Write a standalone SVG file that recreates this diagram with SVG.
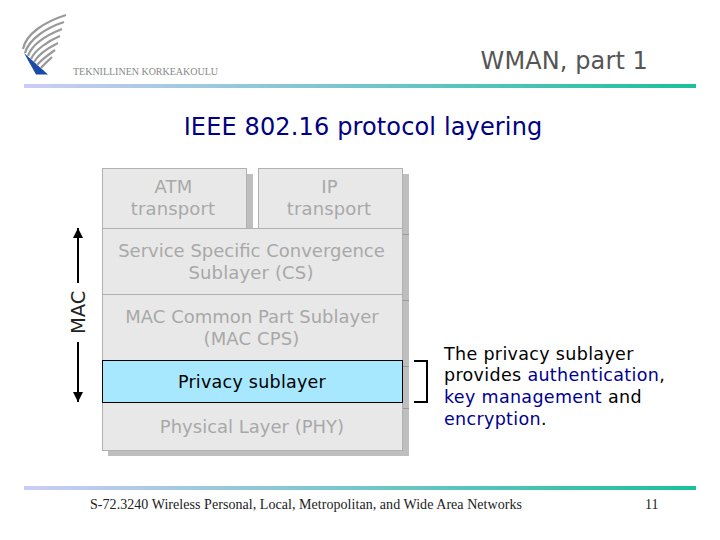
<svg xmlns="http://www.w3.org/2000/svg" width="720" height="540" viewBox="0 0 720 540">
<style>
.v{font-family:"DejaVu Sans",Verdana,sans-serif}
.s{font-family:"Liberation Serif","Times New Roman",serif;font-size:14px;fill:#222}
.l{font-size:18px;fill:#a8a8a8;text-anchor:middle;letter-spacing:.15px}
.n{letter-spacing:0}
.b{fill:#e8e8e8;stroke:#b0b0b0;stroke-width:1}
.sh{fill:#bebebe}
.t{font-size:17.5px;fill:#000;letter-spacing:.33px}
.h{fill:#000090}
.w{fill:none;stroke:#999;stroke-width:2.2}
</style>
<defs>
<linearGradient id="g"><stop offset="0" stop-color="#ccccf6"/><stop offset="1" stop-color="#1cc09a"/></linearGradient>
<marker id="a" markerWidth="11" markerHeight="10" refX="10" refY="5" orient="auto" markerUnits="userSpaceOnUse"><path d="M0 0L10 5L0 10z" fill="#000"/></marker>
</defs>
<rect width="720" height="540" fill="#fff"/>
<g id="logo">
<path d="M24 53L48 74.500L36 74.500z" fill="#1a4aa8"/>
<path d="M23 49C26 34 44 22 66 15" class="w"/>
<path d="M25 53C29 39 46 28 64 22" class="w"/>
<path d="M28 56C32 44 47 35 62 29" class="w"/>
<path d="M31 59C35 50 48 41 60 36" class="w"/>
<path d="M34 62C38 55 48 48 58 43" class="w"/>
<path d="M37 65C41 60 48 55 55 50" class="w"/>
<path d="M41 68C44 64 48 61 52 57" class="w"/>
<text x="73" y="75" font-family="Liberation Serif,serif" font-size="10" textLength="145" lengthAdjust="spacing" fill="#888">TEKNILLINEN KORKEAKOULU</text>
</g>
<text id="header" class="v" x="648" y="69" text-anchor="end" font-size="24" letter-spacing=".1" fill="#555">WMAN, part 1</text>
<rect x="24" y="84" width="672" height="4" fill="url(#g)"/>
<text id="title" class="v" x="363" y="135" text-anchor="middle" font-size="24" letter-spacing=".14" fill="#000080">IEEE 802.16 protocol layering</text>
<g id="shadows">
<rect class="sh" x="108" y="174" width="145" height="60"/>
<rect class="sh" x="264" y="174" width="145" height="60"/>
<rect class="sh" x="108" y="234" width="301" height="222"/>
<path d="M403 234.500H409M403 300.500H409M403 366.500H409M403 408.500H409" stroke="#9a9a9a"/>
</g>
<g id="atm"><rect class="b" x="102.500" y="168.500" width="144" height="60"/>
<text class="v l" x="173.500" y="193">ATM</text><text class="v l" x="173" y="215">transport</text></g>
<g id="ip"><rect class="b" x="258.500" y="168.500" width="144" height="60"/>
<text class="v l" x="329.500" y="193">IP</text><text class="v l" x="329" y="215">transport</text></g>
<g id="cs"><rect class="b" x="102.500" y="228.500" width="300" height="66"/>
<text class="v l n" x="251.500" y="257">Service Specific Convergence</text><text class="v l" x="251" y="279">Sublayer (CS)</text></g>
<g id="cps"><rect class="b" x="102.500" y="294.500" width="300" height="66"/>
<text class="v l n" x="252" y="323">MAC Common Part Sublayer</text><text class="v l" x="251.500" y="345">(MAC CPS)</text></g>
<g id="phy"><rect class="b" x="102.500" y="402.500" width="300" height="48"/>
<text class="v l n" x="252" y="433">Physical Layer (PHY)</text></g>
<g id="privacy"><rect x="102.500" y="360.500" width="300" height="42" fill="#a8e8ff" stroke="#000"/>
<text class="v" x="252" y="387.500" text-anchor="middle" font-size="17.500" letter-spacing=".25" fill="#000">Privacy sublayer</text></g>
<g id="connectors" fill="none" stroke="#000" stroke-width="2">
<path d="M78 283V228" marker-end="url(#a)"/>
<path d="M78 342V402" marker-end="url(#a)"/>
<path d="M414 361H427V402H414"/>
</g>
<text id="mac" class="v" transform="translate(85 334) rotate(-90)" font-size="19.500" fill="#222">MAC</text>
<g id="note" class="v">
<text class="t" x="444" y="360">The privacy sublayer</text>
<text class="t" x="444" y="381">provides <tspan class="h">authentication</tspan>,</text>
<text class="t" x="444" y="403"><tspan class="h">key management</tspan> and</text>
<text class="t" x="444" y="425"><tspan class="h">encryption</tspan>.</text>
</g>
<rect x="24" y="486" width="672" height="4" fill="url(#g)"/>
<text id="footer" class="s" x="90" y="509" textLength="432">S-72.3240 Wireless Personal, Local, Metropolitan, and Wide Area Networks</text>
<text id="page" class="s" x="645" y="509">11</text>
</svg>
